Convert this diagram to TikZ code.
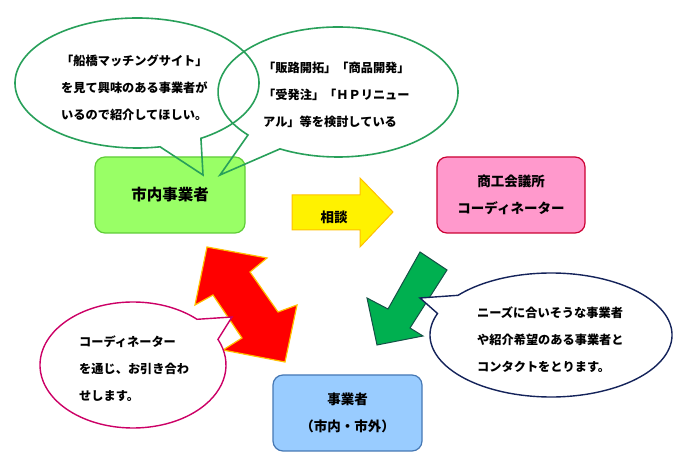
\documentclass[tikz,border=0pt]{standalone}
\usepackage{fontspec}
\setmainfont{Noto Sans CJK JP}
\usetikzlibrary{calc}
\definecolor{callgreen}{RGB}{40,160,90}
\definecolor{gboxfill}{RGB}{153,255,102}
\definecolor{gboxdraw}{RGB}{95,205,55}
\definecolor{pboxfill}{RGB}{255,153,204}
\definecolor{pboxdraw}{RGB}{204,0,51}
\definecolor{bboxfill}{RGB}{153,204,255}
\definecolor{bboxdraw}{RGB}{70,120,180}
\definecolor{arrgold}{RGB}{255,192,0}
\definecolor{arrgreen}{RGB}{0,176,80}
\definecolor{arrgreendraw}{RGB}{20,80,70}
\definecolor{callpink}{RGB}{204,0,102}
\definecolor{callnavy}{RGB}{20,35,90}
\tikzset{
  boxnode/.style={rounded corners=10pt, line width=1.2pt, minimum width=#1, minimum height=76pt, align=center, inner sep=0pt},
  calltext/.style={anchor=west, align=left, inner sep=0pt, font=\bfseries\fontsize{12.2}{27}\selectfont},
  boxtext/.style={font=\bfseries\fontsize{13.5}{27}\selectfont},
}
\begin{document}
\begin{tikzpicture}[x=1pt,y=1pt]
\useasboundingbox (0,0) rectangle (700,462);
\fill[white] (0,0) rectangle (700,462);
% boxes
\node[boxnode=150pt, fill=gboxfill, draw=gboxdraw, font=\bfseries\fontsize{15.5}{20}\selectfont] (shinai) at (170,267) {市内事業者};
\node[boxnode=148pt, fill=pboxfill, draw=pboxdraw, boxtext] (coord) at (511,267) {商工会議所\\コーディネーター};
\node[boxnode=149pt, fill=bboxfill, draw=bboxdraw, boxtext] (jigyo) at (347.5,49) {事業者\\（市内・市外）};
% yellow arrow
\draw[fill=yellow, draw=arrgold, line width=1pt, line join=miter]
  (292,267) -- (360,267) -- (360,284) -- (393,250) -- (360,215) -- (360,232) -- (292,232) -- cycle;
\node[boxtext, inner sep=0pt] (sodan) at (334,245) {相談};
% green arrow
\draw[fill=arrgreen, draw=arrgreendraw, line width=1pt, line join=miter]
  (420,210) -- (447,192) -- (410,134) -- (423,126) -- (377,117) -- (367,164) -- (388,153) -- cycle;
% red double arrow
\draw[fill=red, draw=arrgold, line width=1.2pt, line join=miter]
  (207,215) -- (267,204) -- (250,190) -- (278,150) -- (297,157) -- (285,100)
  -- (223,112) -- (242,124) -- (213,167) -- (195,157) -- cycle;
% green callouts
\draw[callgreen, line width=1.6pt, line join=miter]
  ($(137,379)+(-58.4:122 and 65)$) arc[start angle=-58.4, end angle=280.9, x radius=122pt, y radius=65pt] -- (203,287) -- cycle;
\node[calltext] (c1) at (61,374) {「船橋マッチングサイト」\\を見て興味のある事業者が\\いるので紹介してほしい。};
\draw[callgreen, line width=1.6pt, line join=miter]
  ($(338,370)+(241.1:120 and 65)$) arc[start angle=241.1, end angle=581.4, x radius=120pt, y radius=65pt] -- (220,287) -- cycle;
\node[calltext] (c2) at (263,367) {「販路開拓」「商品開発」\\「受発注」「ＨＰリニュー\\アル」等を検討している};
% pink callout
\draw[fill=white, draw=callpink, line width=1.4pt, line join=miter]
  ($(133,97)+(46.5:93 and 63)$) arc[start angle=46.5, end angle=384, x radius=93pt, y radius=63pt] -- (232,145) -- cycle;
\node[calltext] (c3) at (79,93) {コーディネーター\\を通じ、お引き合わ\\せします。};
% navy callout
\draw[fill=white, draw=callnavy, line width=1.4pt, line join=miter]
  ($(551,127)+(159.7:121 and 62)$) arc[start angle=159.7, end angle=500.2, x radius=121pt, y radius=62pt] -- (420,164) -- cycle;
\node[calltext] (c4) at (477,122) {ニーズに合いそうな事業者\\や紹介希望のある事業者と\\コンタクトをとります。};
\end{tikzpicture}
\end{document}
